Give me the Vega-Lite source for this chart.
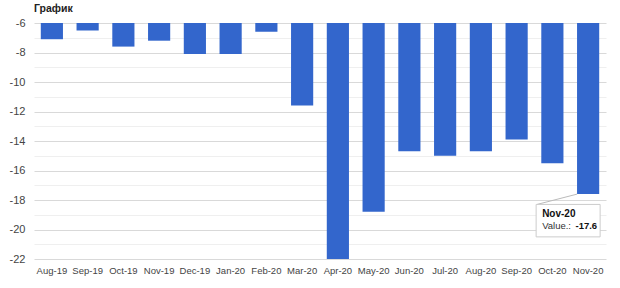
{
  "$schema": "https://vega.github.io/schema/vega-lite/v6.json",
  "autosize": "none",
  "width": 572,
  "height": 236,
  "padding": {"left": 34, "top": 23, "right": 14, "bottom": 29},
  "background": "white",
  "config": {
    "font": "Liberation Sans",
    "view": {"stroke": null}
  },
  "title": {
    "text": "График",
    "anchor": "start",
    "frame": "group",
    "fontSize": 10.5,
    "fontWeight": "bold",
    "color": "#222222",
    "offset": 3
  },
  "data": {
    "values": [
      {"month": "Aug-19", "value": -7.1},
      {"month": "Sep-19", "value": -6.5},
      {"month": "Oct-19", "value": -7.6},
      {"month": "Nov-19", "value": -7.2},
      {"month": "Dec-19", "value": -8.1},
      {"month": "Jan-20", "value": -8.1},
      {"month": "Feb-20", "value": -6.6},
      {"month": "Mar-20", "value": -11.6},
      {"month": "Apr-20", "value": -22.0},
      {"month": "May-20", "value": -18.8},
      {"month": "Jun-20", "value": -14.7},
      {"month": "Jul-20", "value": -15.0},
      {"month": "Aug-20", "value": -14.7},
      {"month": "Sep-20", "value": -13.9},
      {"month": "Oct-20", "value": -15.5},
      {"month": "Nov-20", "value": -17.6}
    ]
  },
  "resolve": {"scale": {"y": "independent"}, "axis": {"y": "independent"}},
  "encoding": {
    "x": {
      "field": "month",
      "type": "nominal",
      "sort": null,
      "scale": {"paddingInner": 0.38, "paddingOuter": 0.19},
      "axis": {
        "title": null,
        "labelAngle": 0,
        "ticks": false,
        "domain": false,
        "labelFontSize": 9.5,
        "labelColor": "#444444",
        "labelPadding": 6
      }
    }
  },
  "layer": [
    {
      "mark": {"type": "bar", "color": "#3366CC"},
      "encoding": {
        "y": {
          "field": "value",
          "type": "quantitative",
          "scale": {"domain": [-22, -6], "nice": false, "zero": false},
          "axis": {
            "title": null,
            "values": [-22, -21, -20, -19, -18, -17, -16, -15, -14, -13, -12, -11, -10, -9, -8, -7, -6],
            "labelExpr": "datum.value % 2 === 0 ? replace(datum.label, '−', '-') : ''",
            "labelOverlap": false,
            "ticks": false,
            "domain": false,
            "labelFontSize": 11,
            "labelColor": "#444444",
            "labelPadding": 9,
            "gridColor": {"condition": {"test": "datum.value % 2 === 0", "value": "#d9d9d9"}, "value": "#efefef"},
            "zindex": 0
          }
        },
        "y2": {"datum": -6}
      }
    },
    {
      "transform": [{"filter": "datum.month === 'Nov-20'"}],
      "mark": {"type": "rule", "color": "#bbbbbb", "strokeWidth": 1, "xOffset": -11, "x2Offset": -51},
      "encoding": {
        "x2": {"field": "month"},
        "y": {"datum": -17.6, "type": "quantitative", "scale": {"domain": [-22, -6], "nice": false, "zero": false}, "axis": null},
        "y2": {"datum": -18.3}
      }
    },
    {
      "transform": [{"filter": "datum.month === 'Nov-20'"}],
      "mark": {"type": "bar", "fill": "white", "stroke": "#cccccc", "strokeWidth": 1, "width": 64, "xOffset": -20},
      "encoding": {
        "y": {"datum": -18.3, "type": "quantitative", "scale": {"domain": [-22, -6], "nice": false, "zero": false}, "axis": null},
        "y2": {"datum": -20.5}
      }
    },
    {
      "transform": [{"filter": "datum.month === 'Nov-20'"}],
      "mark": {"type": "text", "align": "left", "baseline": "middle", "dx": -46, "fontSize": 10, "fontWeight": "bold", "color": "#111111"},
      "encoding": {
        "y": {"datum": -18.93, "type": "quantitative", "scale": {"domain": [-22, -6], "nice": false, "zero": false}, "axis": null},
        "text": {"field": "month"}
      }
    },
    {
      "transform": [{"filter": "datum.month === 'Nov-20'"}],
      "mark": {"type": "text", "align": "left", "baseline": "middle", "dx": -46, "fontSize": 9.5, "color": "#333333", "text": "Value.:"},
      "encoding": {
        "y": {"datum": -19.74, "type": "quantitative", "scale": {"domain": [-22, -6], "nice": false, "zero": false}, "axis": null}
      }
    },
    {
      "transform": [{"filter": "datum.month === 'Nov-20'"}],
      "mark": {"type": "text", "align": "right", "baseline": "middle", "dx": 9, "fontSize": 9.5, "fontWeight": "bold", "color": "#111111"},
      "encoding": {
        "y": {"datum": -19.74, "type": "quantitative", "scale": {"domain": [-22, -6], "nice": false, "zero": false}, "axis": null},
        "text": {"field": "value", "type": "nominal"}
      }
    }
  ]
}
